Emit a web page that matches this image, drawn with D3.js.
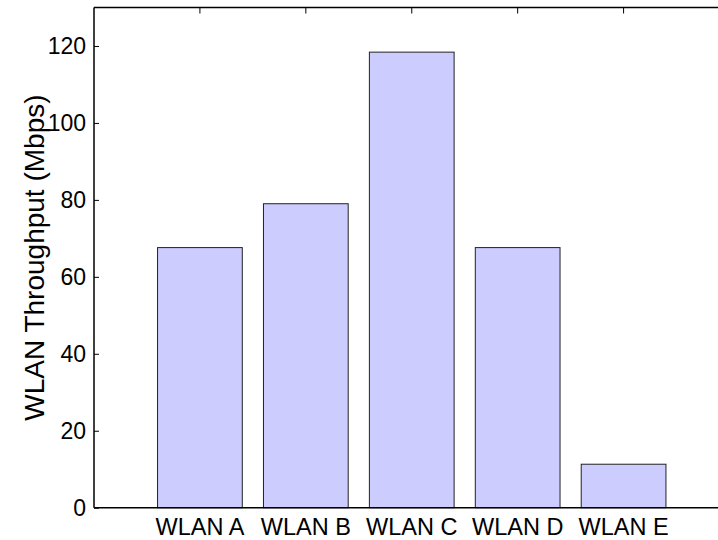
<!DOCTYPE html>
<html>
<head>
<meta charset="utf-8">
<script src="https://cdn.jsdelivr.net/npm/d3@7"></script>
<style>
  html, body { margin: 0; padding: 0; background: #fff; }
  svg { display: block; }
  text { font-family: "Liberation Sans", Arial, Helvetica, sans-serif; fill: #000; }
</style>
</head>
<body>
<svg id="chart" width="718" height="540"></svg>
<script>
const categories = ["WLAN A", "WLAN B", "WLAN C", "WLAN D", "WLAN E"];
const throughput = [67.6, 79.0, 118.4, 67.6, 11.3];
const yTicks = [0, 20, 40, 60, 80, 100, 120];
const yLabel = "WLAN Throughput (Mbps)";

const svg = d3.select("#chart");
const pLeft = 94, pRight = 729.5, pTop = 7.5, pBottom = 507.7;

// categories placed at positions 1..5 on a 0..6 linear axis
const x = d3.scaleLinear().domain([0, categories.length + 1]).range([pLeft, pRight]);
const y = d3.scaleLinear().domain([0, 130]).range([pBottom, pTop]);
const barW = (x(1) - x(0)) * 0.8;

// bars
svg.append("g").selectAll("rect")
  .data(throughput)
  .join("rect")
  .attr("x", (d, i) => x(i + 1) - barW / 2)
  .attr("y", d => y(d))
  .attr("width", barW)
  .attr("height", d => y(0) - y(d))
  .attr("fill", "#ccccff")
  .attr("stroke", "#222")
  .attr("stroke-width", 1);

// top frame line
svg.append("line").attr("x1", pLeft).attr("x2", pRight).attr("y1", pTop).attr("y2", pTop)
  .attr("stroke", "#000").attr("stroke-width", 1.5);

// top ticks at category positions (pointing down)
svg.append("g").selectAll("line")
  .data(categories)
  .join("line")
  .attr("x1", (d, i) => x(i + 1)).attr("x2", (d, i) => x(i + 1))
  .attr("y1", pTop).attr("y2", pTop + 6)
  .attr("stroke", "#000").attr("stroke-width", 1);

// left axis (ticks inward)
const yAxis = d3.axisRight(y).tickValues(yTicks).tickSize(5).tickFormat("");
const gy = svg.append("g").attr("transform", `translate(${pLeft},0)`).call(yAxis);
gy.select(".domain").remove();
gy.selectAll(".tick line").attr("stroke", "#000");
svg.append("line").attr("x1", pLeft).attr("x2", pLeft).attr("y1", pTop).attr("y2", pBottom)
  .attr("stroke", "#000").attr("stroke-width", 1.5);

svg.append("g").selectAll("text")
  .data(yTicks)
  .join("text")
  .attr("x", pLeft - 8)
  .attr("y", d => y(d))
  .attr("dy", "0.36em")
  .attr("text-anchor", "end")
  .attr("font-size", 23)
  .text(d => d);

// bottom axis line
svg.append("line").attr("x1", pLeft).attr("x2", pRight).attr("y1", pBottom).attr("y2", pBottom)
  .attr("stroke", "#000").attr("stroke-width", 1.5);

// x labels
svg.append("g").selectAll("text")
  .data(categories)
  .join("text")
  .attr("x", (d, i) => x(i + 1))
  .attr("y", 535)
  .attr("text-anchor", "middle")
  .attr("font-size", 23.5)
  .text(d => d);

// y label
svg.append("text")
  .attr("transform", `translate(44,${(pTop + pBottom) / 2}) rotate(-90)`)
  .attr("text-anchor", "middle")
  .attr("font-size", 28)
  .text(yLabel);
</script>
</body>
</html>
